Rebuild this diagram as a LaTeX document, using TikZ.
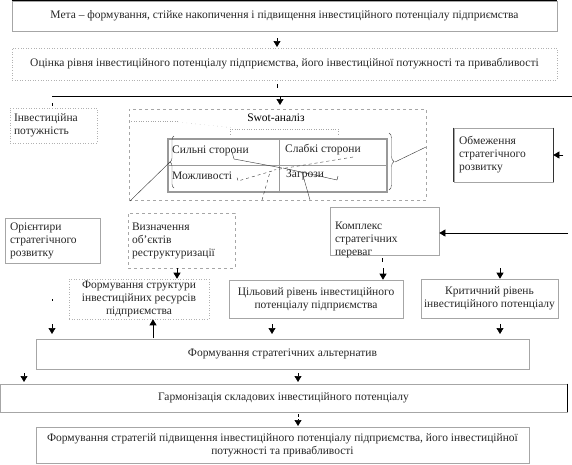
\documentclass[tikz,border=0pt]{standalone}
\usepackage{fontspec}
\setmainfont{Liberation Serif}
\usepackage{tikz}
\usetikzlibrary{positioning, arrows.meta, decorations.pathreplacing}

\tikzset{
  box/.style={draw=gray!70, line width=0.6pt, inner sep=2pt, align=center, text=black!85},
  dotbox/.style={box, dotted, draw=gray!60},
  dashbox/.style={box, dashed, draw=gray!70},
  lbox/.style={box, align=left},
  tip/.style={-{Triangle[width=7pt,length=6pt]}, line width=0.6pt},
  cell/.style={anchor=west, inner sep=0pt, text=black!85},
}

\begin{document}
\begin{tikzpicture}[x=1pt, y=-1pt, font=\fontsize{11.5}{13}\selectfont]
       \useasboundingbox (0,0) rectangle (572,464);

       % top of the scheme
       \node[box, minimum width=545, minimum height=30] (meta) at (284.5,16)
         {Мета – формування, стійке накопичення і підвищення інвестиційного потенціалу підприємства};
       \draw[line width=0.9pt] (meta.north west) -- (meta.north east);
       \node[dotbox, minimum width=545, minimum height=32] (ocinka) at (284.5,64)
         {Оцінка рівня інвестиційного потенціалу підприємства, його інвестиційної потужності та привабливості};
       \coordinate (hl) at (52,96);
       \draw[line width=0.8pt] (hl) -- (572,96);

       % middle part
       \node[lbox, dotted, draw=gray!60, minimum width=87, minimum height=35, text width=79, inner xsep=4] (potuzh) at (53.5,125.5)
         {Інвестиційна\\потужність};
       \node[dashbox, minimum width=297, minimum height=91] (swot) at (277.5,154.5) {};
       \node[inner sep=0pt] (swottitle) at (276,118) {Swot-аналіз};
       \draw[draw=gray!80, line width=1.2pt] (168,139) rectangle (387,192);
       \draw[draw=gray!80, line width=1pt] (168,165) -- (387,165) (279,139) -- (279,192);
       \node[cell] (sylni) at (172,151) {Сильні сторони};
       \node[cell] (slabki) at (285,150) {Слабкі сторони};
       \node[cell] (mozhl) at (172,176) {Можливості};
       \node[cell] (zahroz) at (286,175) {Загрози};
       \draw[decorate, decoration={brace, amplitude=4pt}, gray!60!black] (174,188) -- (174,136);
       \draw[decorate, decoration={brace, amplitude=5pt}, gray!60!black] (389,133) -- (389,190);
       \draw[gray!70, dotted] (129,121) -- (178,121);
       \draw[gray!70, loosely dotted] (178,122) -- (235,128);
       \draw[gray!70, dotted] (230,134) -- (230,129) -- (338,129) -- (338,134);
       \draw[gray!40!black, thin] (170,162) -- (130,201);
       \draw[gray!40!black, thin] (395,162) -- (426,147);
       \draw[gray!40!black, thin] (232,152) -- (234,159) -- (282,168);
       \draw[gray!40!black, thin] (283,168) -- (337,180) -- (338,176);
       \draw[gray!40!black, thin, dashed] (353,157) -- (274,170);
       \draw[gray!40!black, thin, dashed] (272,171) -- (238,181) -- (237,177);
       \draw[gray!40!black, thin, dashed] (262,200) -- (270,172);
       \draw[gray!40!black, thin] (310,200) -- (302,172);

       \node[lbox, minimum width=99, minimum height=54, text width=89, inner xsep=5] (obmezh) at (503.5,155)
         {Обмеження\\стратегічного\\розвитку};
       \draw[line width=0.8pt, gray!40!black] (obmezh.north west) -- (obmezh.south west)
                                              (obmezh.north east) -- (obmezh.south east);
       \node[lbox, minimum width=95, minimum height=45, text width=85, inner xsep=5] (orient) at (52.5,240.5)
         {Орієнтири\\стратегічного\\розвитку};
       \node[lbox, dashed, minimum width=107, minimum height=55, text width=99, inner xsep=4] (vyznach) at (181.5,240.5)
         {Визначення\\об'єктів\\реструктуризації};
       \node[lbox, minimum width=109, minimum height=48, text width=99, inner xsep=5,
             text height=18pt, text depth=22pt] (komplex) at (384.5,231)
         {Комплекс\\стратегічних\\переваг};

       % lower part
       \node[dotbox, minimum width=140, minimum height=38, inner xsep=1pt] (struct) at (139,299)
         {Формування структури\\інвестиційних ресурсів\\підприємства};
       \node[box, minimum width=174, minimum height=38] (cil) at (316,299)
         {Цільовий рівень інвестиційного\\потенціалу підприємства};
       \node[box, minimum width=137, minimum height=39, inner xsep=1pt] (kryt) at (489.5,298.5)
         {Критичний рівень\\інвестиційного потенціалу};
       \node[box, minimum width=493, minimum height=30] (alter) at (282.5,354)
         {Формування стратегічних альтернатив};
       \node[box, minimum width=567, minimum height=28] (harmon) at (283.5,398)
         {Гармонізація складових інвестиційного потенціалу};
       \draw[line width=1pt] (harmon.north west) -- (harmon.south west)
                             (harmon.north east) -- (harmon.south east);
       \node[box, minimum width=493, minimum height=36] (strat) at (282.5,445)
         {Формування стратегій підвищення інвестиційного потенціалу підприємства, його інвестиційної\\потужності та привабливості};

       % short arrows
       \draw[tip] (277,38) -- (277,47);
       \draw[line width=0.6pt] (277,84) -- (277,88);
       \draw[tip] (280,97) -- (280,105);
       \draw[line width=0.6pt] (52,103) -- (52,106);
       \draw[tip] ([xshift=10pt]obmezh.east) -- (obmezh.east);
       \coordinate (kin) at (568,233);
       \draw[tip] (kin) -- (kin -| komplex.east);
       \draw[line width=0.6pt] (382,258) -- (382,262);
       \draw[tip] (383,268) -- (cil.north -| 383,0);
       \draw[tip] (500,268) -- (kryt.north -| 500,0);
       \draw[tip] (177,268) -- (struct.north -| 177,0);
       \draw[line width=0.6pt] (52,299) -- (52,301);
       \draw[tip] (52,324) -- (52,334);
       \draw[tip] (153,338) -- (struct.south -| 153,0);
       \draw[tip] (272,324) -- (272,334);
       \draw[tip] (500,324) -- (500,334);
       \draw[tip] (24,373) -- (24,382);
       \draw[tip] (298,373) -- (298,382);
       \draw[line width=0.6pt] (298,414) -- (298,417);
       \draw[tip] (298,419) -- (298,426);
\end{tikzpicture}
\end{document}
